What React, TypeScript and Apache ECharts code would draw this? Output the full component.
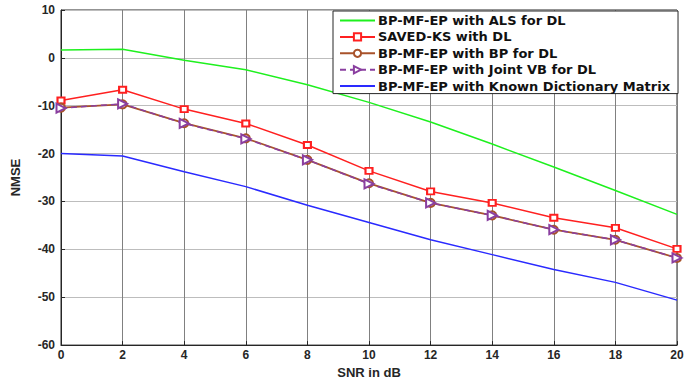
import React, { useEffect, useRef } from "react";
import * as echarts from "echarts";

const snr = [0, 2, 4, 6, 8, 10, 12, 14, 16, 18, 20];
const alsDL = [1.65, 1.8, -0.5, -2.5, -5.6, -9.3, -13.4, -18.0, -22.8, -27.7, -32.7];
const savedKS = [-8.9, -6.65, -10.7, -13.7, -18.2, -23.6, -27.9, -30.3, -33.4, -35.5, -39.9];
const bpDL = [-10.4, -9.7, -13.65, -16.8, -21.3, -26.2, -30.3, -32.9, -35.9, -38.0, -41.8];
const jointVB = [-10.5, -9.6, -13.7, -16.9, -21.3, -26.3, -30.3, -32.9, -35.9, -38.0, -41.8];
const knownDict = [-20.0, -20.5, -23.8, -26.9, -30.8, -34.4, -38.0, -41.1, -44.2, -46.9, -50.6];

const names = [
  "BP-MF-EP with ALS for DL",
  "SAVED-KS with DL",
  "BP-MF-EP with BP for DL",
  "BP-MF-EP with Joint VB for DL",
  "BP-MF-EP with Known Dictionary Matrix",
];

const pairs = (ys: number[]) => snr.map((x, i) => [x, ys[i]]);

export default function App() {
  const ref = useRef<HTMLDivElement>(null);
  useEffect(() => {
    if (!ref.current) return;
    const chart = echarts.init(ref.current, null, { renderer: "svg" });
    const tickFont = {
      fontFamily: "Liberation Sans",
      fontWeight: "bold" as const,
      fontSize: 12,
      color: "#262626",
    };
    const hidden = {
      itemStyle: { color: "rgba(0,0,0,0)", borderColor: "rgba(0,0,0,0)", borderWidth: 0, opacity: 0 },
    };
    chart.setOption({
      animation: false,
      backgroundColor: "#fff",
      grid: {
        left: 61,
        right: 10,
        top: 10,
        bottom: 34,
        show: true,
        borderColor: "#262626",
        borderWidth: 1,
        backgroundColor: "rgba(0,0,0,0)",
      },
      xAxis: {
        type: "value",
        min: 0,
        max: 20,
        interval: 2,
        name: "SNR in dB",
        nameLocation: "middle",
        nameGap: 19,
        nameTextStyle: { ...tickFont, fontSize: 13 },
        axisLine: { show: true, onZero: false, lineStyle: { color: "#262626", width: 1 } },
        axisTick: { show: true, inside: true, length: 4, lineStyle: { color: "#262626" } },
        axisLabel: { ...tickFont, margin: 4 },
        splitLine: { show: true, lineStyle: { color: "#808080", width: 1 } },
      },
      yAxis: {
        type: "value",
        min: -60,
        max: 10,
        interval: 10,
        name: "NMSE",
        nameLocation: "middle",
        nameGap: 39,
        nameRotate: 90,
        nameTextStyle: { ...tickFont, fontSize: 13 },
        axisLine: { show: true, onZero: false, lineStyle: { color: "#262626", width: 1 } },
        axisTick: { show: true, inside: true, length: 4, lineStyle: { color: "#262626" } },
        axisLabel: { ...tickFont, margin: 6 },
        splitLine: { show: true, lineStyle: { color: "#bdbdbd", width: 1 } },
      },
      legend: {
        orient: "vertical",
        left: 333,
        top: 11,
        width: 344,
        backgroundColor: "#fff",
        borderColor: "#262626",
        borderWidth: 1,
        borderRadius: 0,
        padding: [3, 8, 1, 6],
        itemWidth: 35,
        itemHeight: 9,
        itemGap: 3.4,
        textStyle: {
          fontFamily: "DejaVu Sans",
          fontWeight: "bold",
          fontSize: 13,
          lineHeight: 13,
          color: "#111",
          padding: [0, 0, 0, -2],
        },
        data: [
          { name: names[0], ...hidden },
          { name: names[1] },
          { name: names[2] },
          { name: names[3] },
          { name: names[4], ...hidden },
        ],
      },
      series: [
        {
          name: names[0],
          type: "line",
          data: pairs(alsDL),
          symbol: "none",
          color: "#1ef01e",
          lineStyle: { color: "#1ef01e", width: 1.5 },
          z: 2,
        },
        {
          name: names[1],
          type: "line",
          data: pairs(savedKS),
          symbol: "emptyRect",
          symbolSize: [7, 6],
          color: "#ff2020",
          itemStyle: { color: "#ff2020", borderColor: "#ff2020", borderWidth: 1.5 },
          lineStyle: { color: "#ff2020", width: 1.5 },
          z: 3,
        },
        {
          name: names[2],
          type: "line",
          data: pairs(bpDL),
          symbol: "emptyCircle",
          symbolSize: 8,
          color: "#a8522a",
          itemStyle: { color: "#a8522a", borderColor: "#a8522a", borderWidth: 1.5 },
          lineStyle: { color: "#a8522a", width: 1.8 },
          z: 3,
        },
        {
          name: names[3],
          type: "line",
          data: pairs(jointVB),
          symbol: "emptyTriangle",
          symbolRotate: -90,
          symbolSize: 9,
          color: "#8a3fa0",
          itemStyle: { color: "#8a3fa0", borderColor: "#8a3fa0", borderWidth: 2 },
          lineStyle: { color: "#8a3fa0", width: 1.5, type: [6, 4] },
          z: 4,
        },
        {
          name: names[4],
          type: "line",
          data: pairs(knownDict),
          symbol: "none",
          color: "#2a2aff",
          lineStyle: { color: "#2a2aff", width: 1.5 },
          z: 2,
        },
      ],
    });
    return () => chart.dispose();
  }, []);
  return (
    <div
      ref={ref}
      style={{ width: 687, height: 384, position: "absolute", left: 0, top: 0 }}
    />
  );
}
